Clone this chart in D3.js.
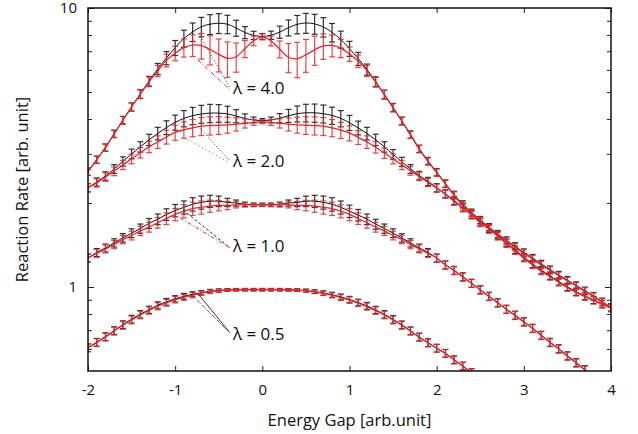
<!DOCTYPE html>
<html>
<head>
<meta charset="utf-8">
<script src="https://cdn.jsdelivr.net/npm/d3@7"></script>
<style>
body {margin: 0; background: #fff;}
text {font-family: "Open Sans", sans-serif; fill: #111;}
</style>
</head>
<body>
<svg width=638 height=434></svg>
<script>
// energy gap grid (x)
var energyGap = [-2.0,-1.9,-1.8,-1.7,-1.6,-1.5,-1.4,-1.3,-1.2,-1.1,-1.0,-0.9,-0.8,-0.7,-0.6,-0.5,-0.4,-0.3,-0.2,-0.1,
  0.0,0.1,0.2,0.3,0.4,0.5,0.6,0.7,0.8,0.9,1.0,1.1,1.2,1.3,1.4,1.5,1.6,1.7,1.8,1.9,
  2.0,2.1,2.2,2.3,2.4,2.5,2.6,2.7,2.8,2.9,3.0,3.1,3.2,3.3,3.4,3.5,3.6,3.7,3.8,3.9,4.0];

// lambda = 4.0
var rate4Black = [2.59,2.86,3.16,3.54,3.96,4.42,4.92,5.47,6.05,6.62,7.20,7.78,8.21,8.57,8.75,8.82,8.75,8.48,8.17,7.98,7.91,
  7.99,8.20,8.50,8.74,8.84,8.77,8.55,8.18,7.72,7.15,6.58,6.02,5.45,4.90,4.40,3.94,3.52,3.13,2.83,2.58,
  2.35,2.14,1.98,1.85,1.74,1.64,1.55,1.47,1.40,1.33,1.27,1.21,1.155,1.105,1.058,1.013,0.970,0.928,0.886,0.845];
var rate4Red = [2.59,2.86,3.16,3.54,3.96,4.42,4.91,5.44,5.95,6.49,6.88,7.21,7.36,7.33,7.10,6.82,6.60,6.69,7.14,7.63,7.88,
  7.62,7.12,6.66,6.58,6.80,7.08,7.31,7.34,7.18,6.84,6.45,5.96,5.42,4.89,4.39,3.93,3.51,3.12,2.82,2.57,
  2.34,2.13,1.96,1.84,1.73,1.63,1.54,1.46,1.39,1.32,1.26,1.20,1.148,1.098,1.052,1.008,0.965,0.924,0.883,0.842];
// lambda = 2.0
var rate2Black = [2.27,2.38,2.50,2.65,2.82,3.00,3.18,3.37,3.55,3.73,3.89,4.02,4.11,4.17,4.20,4.20,4.17,4.10,4.02,3.97,3.95,
  3.97,4.03,4.11,4.18,4.21,4.21,4.18,4.12,4.02,3.88,3.72,3.55,3.37,3.18,2.99,2.81,2.65,2.51,2.39,2.27,
  2.16,2.04,1.93,1.82,1.71,1.62,1.53,1.44,1.36,1.28,1.21,1.15,1.098,1.047,1.001,0.962,0.929,0.899,0.870,0.843];
var rate2Red = [2.27,2.36,2.48,2.60,2.74,2.88,3.03,3.18,3.31,3.45,3.58,3.66,3.72,3.77,3.79,3.80,3.81,3.83,3.86,3.89,3.91,
  3.89,3.86,3.83,3.81,3.80,3.79,3.77,3.72,3.65,3.56,3.44,3.31,3.17,3.02,2.88,2.74,2.61,2.49,2.37,2.26,
  2.15,2.03,1.92,1.81,1.70,1.61,1.52,1.43,1.35,1.27,1.20,1.14,1.090,1.040,0.995,0.957,0.924,0.895,0.867,0.840];
// lambda = 1.0
var rate1Black = [1.27,1.33,1.38,1.44,1.50,1.56,1.62,1.69,1.75,1.82,1.88,1.93,1.98,2.01,2.03,2.03,2.01,2.00,1.98,1.97,1.97,
  1.97,1.98,2.00,2.01,2.03,2.03,2.01,1.98,1.93,1.87,1.81,1.75,1.68,1.62,1.56,1.50,1.44,1.38,1.33,1.27,
  1.20,1.148,1.088,1.032,0.978,0.927,0.879,0.833,0.793,0.751,0.712,0.672,0.634,0.601,0.567,0.536,0.506,0.478];
var rate1Red = [1.27,1.32,1.37,1.42,1.48,1.53,1.59,1.64,1.70,1.76,1.82,1.87,1.91,1.93,1.95,1.96,1.96,1.97,1.97,1.97,1.97,
  1.97,1.97,1.97,1.96,1.96,1.95,1.93,1.91,1.87,1.82,1.76,1.70,1.64,1.59,1.53,1.48,1.42,1.37,1.32,1.27,
  1.20,1.145,1.085,1.030,0.976,0.925,0.877,0.831,0.791,0.749,0.710,0.670,0.632,0.599,0.565,0.534,0.504,0.476];
// lambda = 0.5
var rate05Black = [0.606,0.634,0.664,0.698,0.733,0.767,0.799,0.829,0.860,0.885,0.907,0.926,0.942,0.954,0.966,0.972,0.976,0.978,0.978,0.978,0.978,
  0.978,0.978,0.977,0.975,0.970,0.963,0.952,0.938,0.922,0.902,0.880,0.856,0.828,0.798,0.766,0.732,0.697,0.662,0.632,0.604,
  0.579,0.549,0.521,0.494,0.468];
var rate05Red = [0.606,0.632,0.662,0.695,0.729,0.762,0.794,0.824,0.853,0.878,0.900,0.918,0.934,0.950,0.962,0.970,0.975,0.977,0.978,0.978,0.978,
  0.978,0.978,0.977,0.975,0.969,0.961,0.949,0.934,0.917,0.898,0.876,0.851,0.823,0.794,0.762,0.729,0.695,0.661,0.631,0.603,
  0.578,0.548,0.520,0.493,0.467];

// relative error bars, percent (half width)
var err4Black = [3.0,3.0,3.0,3.0,3.2,3.4,3.6,4.0,4.6,5.4,6.2,7.0,7.6,8.0,8.2,8.2,7.6,6.6,5.0,3.4,2.4,
  3.4,5.0,6.6,7.6,8.2,8.2,8.0,7.6,7.0,6.2,5.4,4.6,4.0,3.6,3.4,3.2,3.0,3.0,3.0,3.0,
  3.0,3.0,2.9,2.9,2.9,2.9,2.9,2.9,3.0,3.0,3.0,3.0,3.0,3.0,3.0,3.0,3.0,3.0,3.0,3.0];
var err4Red = [3.0,3.0,3.0,3.0,3.2,3.4,3.6,4.0,4.6,5.2,6.0,7.5,9.0,10.5,12.0,13.5,14.5,12.0,7.0,4.0,2.5,
  4.0,7.0,12.0,14.5,13.5,12.0,10.5,9.0,7.5,6.0,5.2,4.6,4.0,3.6,3.4,3.2,3.0,3.0,3.0,3.0,
  3.0,3.0,2.9,2.9,2.9,2.9,2.9,2.9,3.0,3.0,3.0,3.0,3.0,3.0,3.0,3.0,3.0,3.0,3.0,3.0];
var err2 = [3.4,3.4,3.5,3.6,3.8,4.0,4.3,4.7,5.2,5.7,6.2,6.7,7.1,7.4,7.5,7.3,6.6,5.4,3.8,2.4,1.6,
  2.4,3.8,5.4,6.6,7.3,7.5,7.4,7.1,6.7,6.2,5.7,5.2,4.7,4.3,4.0,3.8,3.6,3.5,3.4,3.4,
  3.3,3.3,3.2,3.2,3.2,3.2,3.1,3.1,3.1,3.1,3.0,3.0,3.0,3.0,3.0,3.0,3.0,3.0,3.0,3.0];
var err1 = [3.3,3.3,3.3,3.4,3.5,3.6,3.8,4.1,4.4,4.8,5.1,5.4,5.5,5.4,5.0,4.3,3.4,2.5,1.8,1.4,1.3,
  1.4,1.8,2.5,3.4,4.3,5.0,5.4,5.5,5.4,5.1,4.8,4.4,4.1,3.8,3.6,3.5,3.4,3.3,3.3,3.3,
  3.3,3.3,3.3,3.3,3.3,3.3,3.3,3.3,3.3,3.3,3.3,3.3,3.3,3.3,3.3,3.3,3.3,3.3];
var err05 = [3.2,3.2,3.2,3.2,3.2,3.2,3.1,3.0,2.9,2.8,2.6,2.4,2.1,1.8,1.5,1.3,1.1,1.0,1.0,1.0,1.0,
  1.0,1.0,1.0,1.1,1.3,1.5,1.8,2.1,2.4,2.6,2.8,2.9,3.0,3.1,3.2,3.2,3.2,3.2,3.2,3.2,
  3.2,3.2,3.2,3.2,3.2];

var xTicks = [-2,-1,0,1,2,3,4];
var yMajor = [1,10];
var yMinor = [0.6,0.7,0.8,0.9,2,3,4,5,6,7,8,9];

var lambdaLabels = ["λ = 4.0","λ = 2.0","λ = 1.0","λ = 0.5"];
var labelPos = [[-0.337,5.17],[-0.337,2.82],[-0.337,1.40],[-0.337,0.681]];
var leaderBlack = [[[-0.727,8.07],[-0.371,5.17]],[[-0.761,3.84],[-0.371,2.83]],[[-0.91,1.89],[-0.371,1.38]],[[-0.738,0.946],[-0.371,0.686]]];
var leaderRed = [[[-0.738,6.51],[-0.371,5.09]],[[-0.853,3.37],[-0.382,2.79]],[[-0.945,1.77],[-0.371,1.38]],[[-0.75,0.90],[-0.394,0.695]]];

var svg = d3.select("svg"),
    margin = {top: 8, right: 27, bottom: 63, left: 88},
    width = 638 - margin.left - margin.right,
    height = 434 - margin.top - margin.bottom,
    g = svg.append("g").attr("transform", "translate(" + margin.left + "," + margin.top + ")");

var x = d3.scaleLinear().domain([-2, 4]).range([0, width]);
var y = d3.scaleLog().domain([0.5, 10]).range([height, 0]);

var BLACK = "#111", RED = "#e3262b";

g.append("clipPath").attr("id", "clip")
  .append("rect").attr("width", width).attr("height", height);

var blackSeries = [[rate4Black, err4Black], [rate2Black, err2], [rate1Black, err1], [rate05Black, err05]];
var redSeries = [[rate4Red, err4Red], [rate2Red, err2], [rate1Red, err1], [rate05Red, err05]];

var line = d3.line()
  .x(function(d) { return x(d[0]); })
  .y(function(d) { return y(d[1]); })
  .curve(d3.curveCatmullRom.alpha(0.5));

var plot = g.append("g").attr("clip-path", "url(#clip)");

function drawSeries(list, color, lw) {
  list.forEach(function(s) {
    var pts = s[0].map(function(v, i) { return [energyGap[i], v, s[1][i]]; });
    var bars = plot.append("g");
    bars.selectAll("g").data(pts).enter().append("g")
      .each(function(d) {
        var sel = d3.select(this),
            cx = x(d[0]),
            lo = y(d[1] * (1 - d[2] / 100)),
            hi = y(d[1] * (1 + d[2] / 100));
        sel.append("line").attr("x1", cx).attr("x2", cx).attr("y1", lo).attr("y2", hi);
        sel.append("line").attr("x1", cx - 3).attr("x2", cx + 3).attr("y1", lo).attr("y2", lo);
        sel.append("line").attr("x1", cx - 3).attr("x2", cx + 3).attr("y1", hi).attr("y2", hi);
      })
      .attr("stroke", color).attr("stroke-width", 1.2).attr("stroke-opacity", 0.85);
    plot.append("path").datum(pts)
      .attr("d", line).attr("fill", "none")
      .attr("stroke", color).attr("stroke-width", lw);
  });
}
drawSeries(blackSeries, BLACK, 1);
drawSeries(redSeries, RED, 1.3);

// leader lines and lambda labels
var blackDash = ["1,2", "1,2", "3,2", null];
var redDash = ["4,2,1,2", "1,3", "4,2,1,2", "4,1,1,1"];
leaderBlack.forEach(function(l, i) {
  g.append("line").attr("x1", x(l[0][0])).attr("y1", y(l[0][1])).attr("x2", x(l[1][0])).attr("y2", y(l[1][1]))
    .attr("stroke", "#333").attr("stroke-width", 1).attr("stroke-dasharray", blackDash[i]);
});
leaderRed.forEach(function(l, i) {
  g.append("line").attr("x1", x(l[0][0])).attr("y1", y(l[0][1])).attr("x2", x(l[1][0])).attr("y2", y(l[1][1]))
    .attr("stroke", RED).attr("stroke-width", 1).attr("stroke-dasharray", redDash[i]);
});
g.selectAll(".lam").data(lambdaLabels).enter().append("text")
  .attr("class", "lam")
  .attr("x", function(d, i) { return x(labelPos[i][0]); })
  .attr("y", function(d, i) { return y(labelPos[i][1]); })
  .attr("dy", "0.35em")
  .style("font-size", "17px")
  .text(function(d) { return d; });

// axes, ticks pointing inward
var plain = function(d) { return String(d); };
var xBottom = d3.axisBottom(x).tickValues(xTicks).tickSize(-5).tickPadding(13).tickFormat(plain);
var xTop = d3.axisTop(x).tickValues(xTicks).tickSize(-5).tickFormat("");
var yLeft = d3.axisLeft(y).tickValues(yMajor).tickSize(-6).tickPadding(11).tickFormat(plain);
var yLeftMinor = d3.axisLeft(y).tickValues(yMinor).tickSize(-4).tickFormat("");
var yRight = d3.axisRight(y).tickValues(yMajor).tickSize(-6).tickFormat("");
var yRightMinor = d3.axisRight(y).tickValues(yMinor).tickSize(-4).tickFormat("");

g.append("g").attr("transform", "translate(0," + height + ")").call(xBottom);
g.append("g").call(xTop);
g.append("g").call(yLeft);
g.append("g").call(yLeftMinor);
g.append("g").attr("transform", "translate(" + width + ",0)").call(yRight);
g.append("g").attr("transform", "translate(" + width + ",0)").call(yRightMinor);
g.selectAll(".domain").remove();
g.selectAll(".tick text").style("font-size", "15px").style("font-family", "'Open Sans', sans-serif").attr("fill", "#111");
g.selectAll(".tick line").attr("stroke", "#222");

g.append("rect").attr("width", width).attr("height", height)
  .attr("fill", "none").attr("stroke", "#111").attr("stroke-width", 1.5);

svg.append("text")
  .attr("x", margin.left + width / 2).attr("y", 426)
  .attr("text-anchor", "middle").style("font-size", "16.5px")
  .text("Energy Gap [arb.unit]");
svg.append("text")
  .attr("transform", "translate(28," + (margin.top + height / 2) + ") rotate(-90)")
  .attr("text-anchor", "middle").style("font-size", "16.5px")
  .text("Reaction Rate [arb. unit]");
</script>
</body>
</html>
